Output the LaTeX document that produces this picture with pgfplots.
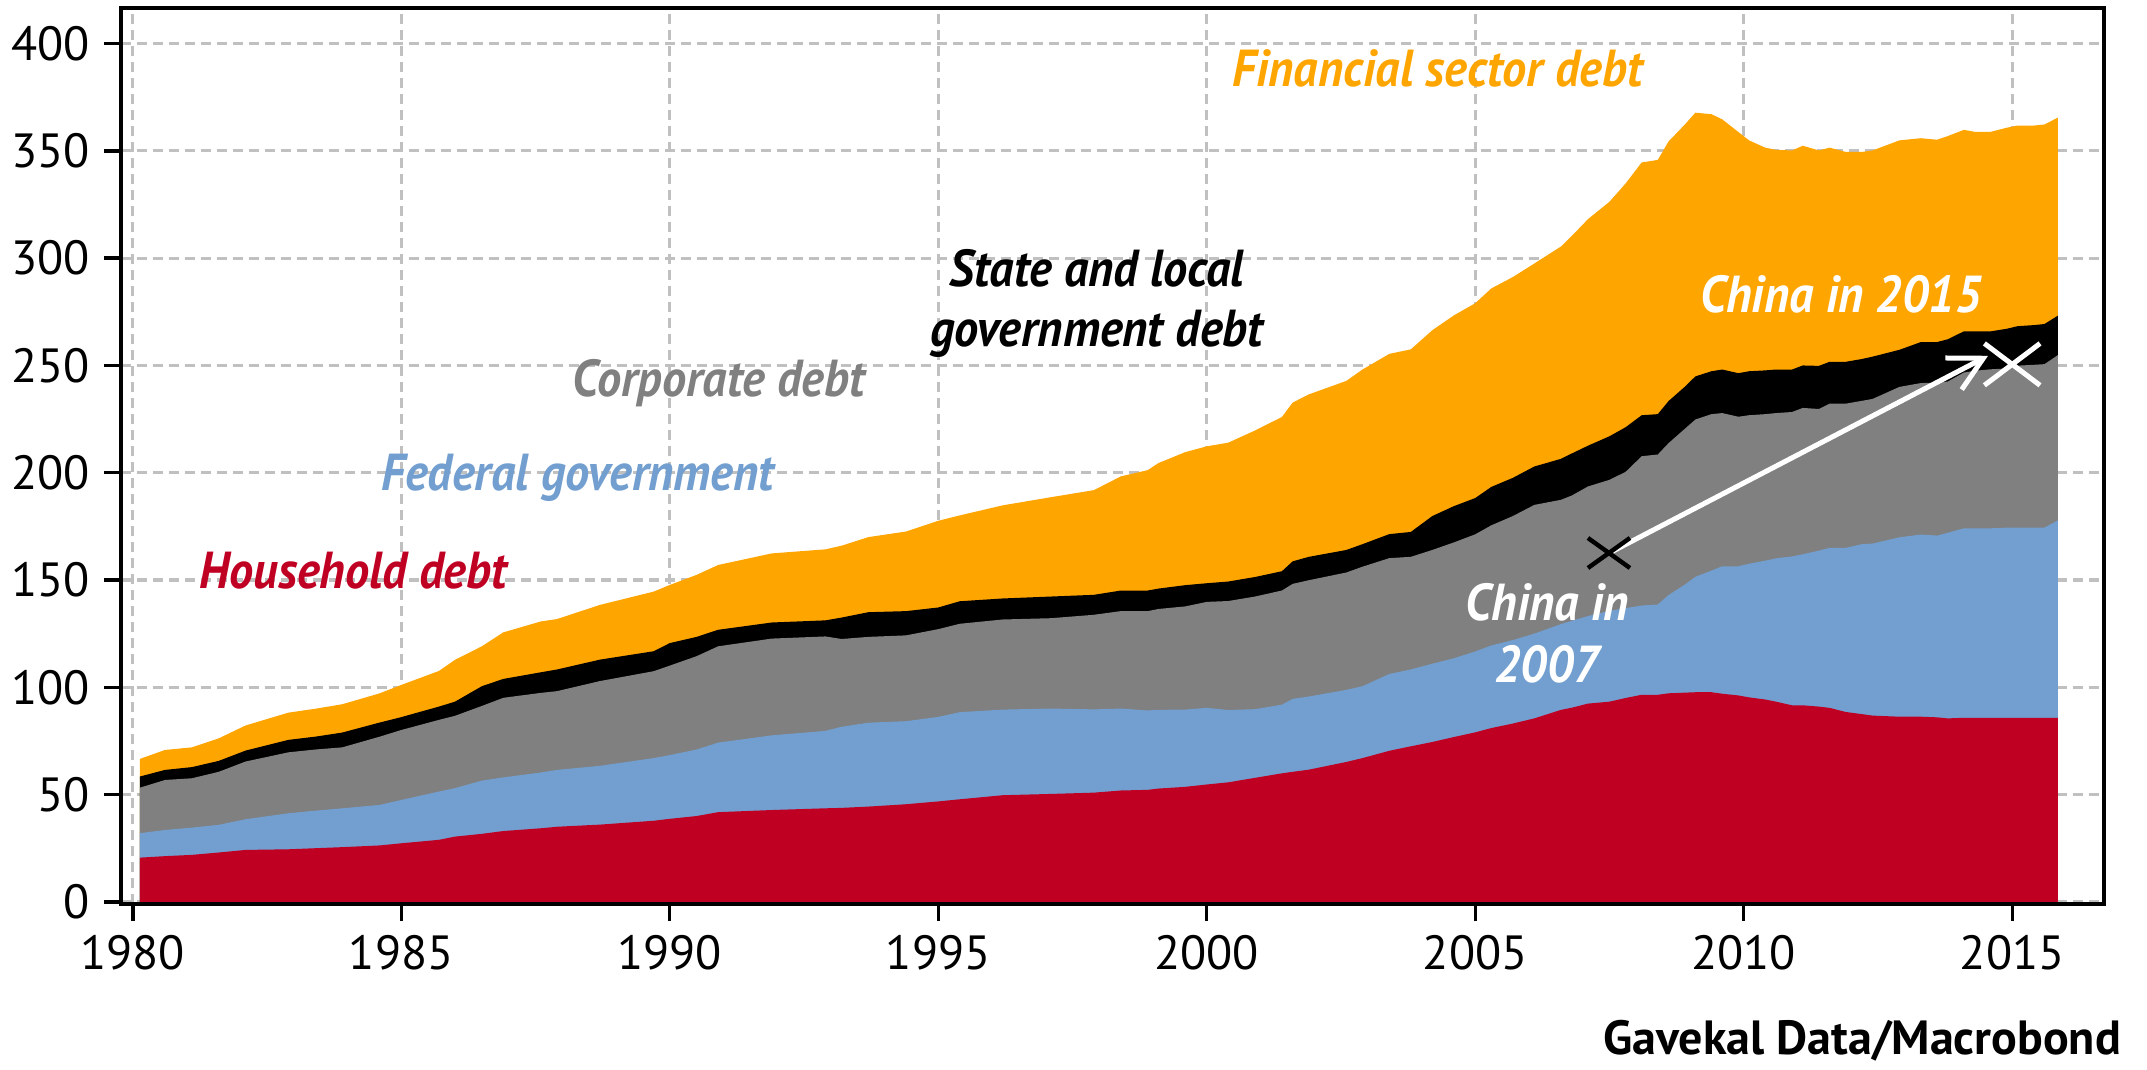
\documentclass[border=0pt]{standalone}
\usepackage{fontspec}
\setmainfont{PT Sans}
\usepackage{pgfplots}
\usepackage{pgfplotstable}
\pgfplotsset{compat=1.18}
\usetikzlibrary{arrows.meta}

\definecolor{hhred}{RGB}{192,0,35}
\definecolor{fedblue}{RGB}{114,159,207}
\definecolor{corpgray}{RGB}{128,128,128}
\definecolor{finorange}{RGB}{255,165,0}
\definecolor{gridgray}{RGB}{192,192,192}

% cumulative tops of the stacked areas (% of GDP)
% R household, B +federal, G +corporate, K +state/local, O +financial
\pgfplotstableread{
yr      R     B     G     K     O
1980.13 20.6  32.0  53.2  58.4  66.6
1980.6  21.3  33.5  56.8  61.5  70.8
1981.1  21.9  34.6  57.6  62.8  72.0
1981.6  23.0  35.9  60.6  65.7  76.2
1982.1  24.2  38.5  65.4  70.5  82.2
1982.9  24.5  41.3  69.7  75.5  88.2
1983.4  25.0  42.5  71.0  77.0  90.0
1983.9  25.5  43.6  72.0  78.9  92.1
1984.6  26.3  45.2  77.0  83.6  97.2
1985.0  27.3  47.5  80.1  86.1  101.1
1985.7  28.9  51.4  84.8  91.0  107.6
1986.0  30.4  53.0  86.7  93.3  112.8
1986.5  31.7  56.5  91.3  100.5 119.1
1986.9  33.0  58.0  95.1  103.9 125.6
1987.6  34.3  60.3  97.4  107.0 130.7
1987.9  35.0  61.5  98.2  108.3 131.8
1988.7  36.0  63.4  102.9 112.9 138.4
1989.7  37.8  67.0  107.5 116.8 144.6
1990.0  38.7  68.4  110.1 120.6 147.7
1990.5  40.0  71.0  114.5 123.5 152.4
1990.9  41.8  74.2  119.1 126.8 157.0
1991.9  42.8  77.6  122.7 130.2 162.4
1992.9  43.6  79.7  123.7 131.2 164.3
1993.2  43.8  81.6  122.5 132.5 166.0
1993.7  44.4  83.5  123.5 135.0 170.0
1994.4  45.5  84.2  124.2 135.5 172.6
1995.0  46.8  86.2  127.1 137.2 177.6
1995.4  47.8  88.4  129.6 140.1 180.1
1996.2  49.7  89.6  131.6 141.4 184.8
1997.1  50.3  90.1  132.2 142.3 188.6
1997.9  50.9  89.7  133.8 143.1 191.9
1998.4  51.9  90.1  135.5 145.1 198.3
1998.9  52.2  89.2  135.5 145.1 201.2
1999.1  52.8  89.5  136.5 146.0 204.5
1999.6  53.6  89.6  137.7 147.6 209.6
2000.0  54.7  90.4  139.8 148.5 212.3
2000.4  55.7  89.4  140.2 149.3 214.0
2000.9  57.8  89.8  142.3 151.4 219.7
2001.4  59.9  91.9  145.1 154.1 226.0
2001.6  60.6  94.6  148.2 158.7 232.7
2001.9  61.6  95.7  149.9 160.8 236.5
2002.6  65.2  98.8  153.5 164.0 242.8
2002.9  67.0  100.5 156.2 166.7 248.1
2003.4  70.4  106.2 160.2 171.4 255.4
2003.8  72.5  108.3 160.8 172.4 257.5
2004.2  74.5  111.0 164.0 179.8 266.4
2004.6  76.8  113.5 167.5 184.4 273.3
2005.0  79.0  116.7 171.3 188.2 279.0
2005.3  81.0  119.5 175.5 193.4 285.9
2005.7  83.1  122.0 179.8 197.6 291.2
2006.1  85.5  125.0 185.0 202.9 297.5
2006.6  89.5  129.5 187.4 206.5 305.5
2006.8  90.5  131.0 189.4 209.0 310.4
2007.1  92.4  133.2 193.6 212.6 318.2
2007.5  93.3  135.6 196.7 217.0 326.3
2007.8  95.0  136.9 200.4 221.2 334.8
2008.1  96.5  138.1 207.7 226.8 344.6
2008.4  96.5  138.6 208.5 227.3 345.8
2008.6  97.2  143.0 213.8 233.4 354.4
2008.9  97.5  147.8 220.4 240.0 362.2
2009.1  97.7  151.5 224.8 244.9 367.8
2009.4  97.7  154.4 227.3 247.3 367.1
2009.6  97.0  156.4 227.8 248.1 364.7
2009.9  96.2  156.4 226.1 246.4 358.8
2010.1  95.3  157.6 226.8 247.3 354.9
2010.4  94.3  159.0 227.3 247.7 351.5
2010.6  93.3  160.1 227.8 248.1 350.5
2010.9  91.6  161.0 228.3 248.1 350.2
2011.1  91.6  162.0 230.2 250.0 352.4
2011.4  91.0  163.7 229.7 249.8 350.2
2011.6  90.4  165.0 232.2 251.7 351.5
2011.9  88.5  165.0 232.2 251.7 349.5
2012.2  87.5  166.7 233.5 253.0 349.5
2012.4  86.8  167.0 234.4 254.1 350.2
2012.9  86.3  169.9 240.0 257.3 354.9
2013.3  86.3  171.2 241.8 260.9 355.9
2013.6  86.0  170.7 242.0 260.9 355.2
2013.8  85.5  172.0 242.5 262.2 356.9
2014.1  85.8  174.1 246.7 265.9 359.8
2014.3  85.8  174.1 247.5 265.9 358.9
2014.6  85.8  174.1 248.2 265.9 358.9
2014.9  85.8  174.4 248.6 267.1 360.8
2015.1  85.8  174.4 249.9 268.3 361.8
2015.4  85.8  174.4 250.3 268.8 361.8
2015.6  85.8  174.4 250.6 269.3 362.3
2015.85 85.8  177.8 254.8 273.2 365.5
}\debt

\begin{document}
\begin{tikzpicture}
\path[use as bounding box] (-30.25pt,-41.25pt) rectangle (506.5pt,226pt);
\begin{axis}[
    scale only axis,
    width=495.75pt, height=224pt,
    xmin=1979.78, xmax=2016.71,
    ymin=-1, ymax=416.6,
    xtick={1980,1985,...,2015},
    ytick={0,50,...,400},
    /pgf/number format/1000 sep={},
    /pgf/number format/assume math mode=true,
    tick label style={font=\fontsize{12}{12}\selectfont},
    tick align=outside, tick pos=left,
    major tick length=4.25pt,
    every tick/.style={black, line width=0.85pt},
    axis line style={line width=0.85pt},
    grid=major,
    major grid style={gridgray, line width=0.8pt, dash pattern=on 2.5pt off 1.5pt},
    clip=false,
]
\addplot[fill=finorange, draw=none] table[x=yr,y=O] {\debt} \closedcycle;
\addplot[fill=black, draw=none] table[x=yr,y=K] {\debt} \closedcycle;
\addplot[fill=corpgray, draw=none] table[x=yr,y=G] {\debt} \closedcycle;
\addplot[fill=fedblue, draw=none] table[x=yr,y=B] {\debt} \closedcycle;
\addplot[fill=hhred, draw=none] table[x=yr,y=R] {\debt} \closedcycle;

% China markers
\draw[white, line width=1.25pt, -{Straight Barb[length=8.4pt,width=8.9pt]}]
    (axis cs:2007.55,163.3) -- (axis cs:2014.55,254.5);
\addplot[only marks, mark=x, mark size=5.3pt,
    mark options={black, line width=1.1pt, xscale=1.4}] coordinates {(2007.49,162.6)};
\addplot[only marks, mark=x, mark size=7.4pt,
    mark options={white, line width=1.25pt, xscale=1.33}] coordinates {(2015.0,250.5)};

\begin{scope}[every node/.style={font=\fontsize{13}{15}\selectfont\bfseries\itshape, align=center, xscale=0.93}]
\node[text=finorange] at (axis cs:2004.3,388.3) {Financial sector debt};
\node[text=black] at (axis cs:1997.95,279) {State and local\\government debt};
\node[text=corpgray] at (axis cs:1990.91,241.8) {Corporate debt};
\node[text=fedblue] at (axis cs:1988.29,197.6) {Federal government};
\node[text=hhred] at (axis cs:1984.1,154.2) {Household debt};
\node[text=white] at (axis cs:2011.81,283.3) {China in 2015};
\node[text=white, font=\fontsize{13}{15.5}\selectfont\bfseries\itshape] at (axis cs:2006.34,125.3) {China in\\2007};
\end{scope}
\end{axis}
\node[anchor=base east, font=\fontsize{12}{12}\selectfont\bfseries] at (503.5pt,-37.5pt) {Gavekal Data/Macrobond};
\end{tikzpicture}
\end{document}
